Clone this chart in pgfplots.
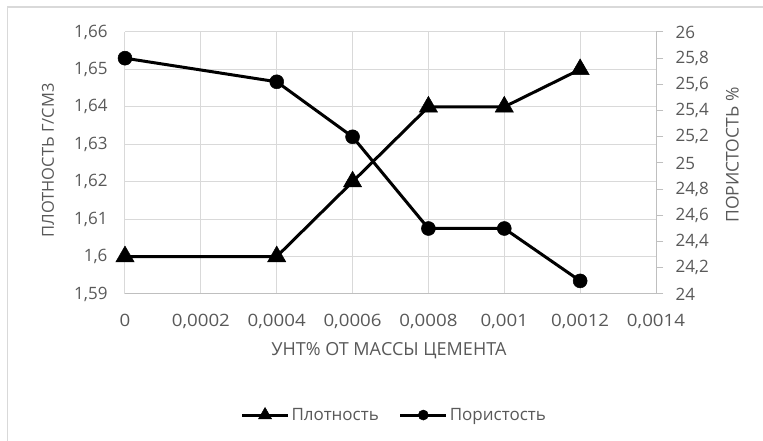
\documentclass[border=0pt]{standalone}
\usepackage{pgfplots}
\pgfplotsset{compat=1.18}
\usepackage{fontspec}
\setmainfont{Open Sans}
\definecolor{txt}{HTML}{595959}
\definecolor{grd}{HTML}{D9D9D9}
\definecolor{axl}{HTML}{BFBFBF}
\pgfplotstableread{
x y
0      1.60
0.0004 1.60
0.0006 1.62
0.0008 1.64
0.001  1.64
0.0012 1.65
}\dens
\pgfplotstableread{
x y
0      25.8
0.0004 25.62
0.0006 25.2
0.0008 24.5
0.001  24.5
0.0012 24.1
}\por
\pgfplotsset{
  densstyle/.style={black, line width=3pt, mark=triangle*, mark size=10.5pt, mark options={solid, line width=0.5pt}},
  porstyle/.style={black, line width=3pt, mark=*, mark size=7pt, mark options={solid, line width=0.5pt}},
}
\begin{document}
\begin{tikzpicture}[x=1pt,y=1pt]
\useasboundingbox (-125,-147) rectangle (638,294);
\fill[white] (-125,-147) rectangle (638,294);
\draw[grd, line width=1.5pt] (-117.5,-147) -- (-117.5,287) -- (638,287);
\begin{axis}[
  scale only axis, width=531pt, height=262pt,
  xmin=0, xmax=0.0014, ymin=1.59, ymax=1.66,
  scaled x ticks=false, scaled y ticks=false,
  axis x line*=bottom, axis y line*=left,
  x axis line style={draw=axl, line width=1pt, -},
  y axis line style={draw=grd, line width=1pt, -},
  xtick={0,0.0002,0.0004,0.0006,0.0008,0.001,0.0012,0.0014},
  xticklabels={0,{0,0002},{0,0004},{0,0006},{0,0008},{0,001},{0,0012},{0,0014}},
  ytick={1.59,1.6,1.61,1.62,1.63,1.64,1.65,1.66},
  yticklabels={{1,59},{1,6},{1,61},{1,62},{1,63},{1,64},{1,65},{1,66}},
  major tick length=0pt,
  xmajorgrids, ymajorgrids,
  grid style={draw=grd, line width=1pt},
  tick label style={font=\fontsize{17}{20}\selectfont, text=txt},
  xticklabel style={anchor=north, yshift=-17pt, xscale=1.1},
  yticklabel style={anchor=east, xshift=-14pt},
  ylabel={ПЛОТНОСТЬ Г/СМ3},
  ylabel style={at={(axis description cs:-0.145,0.51)}, anchor=center, rotate=0, font=\fontsize{16.5}{19}\selectfont, text=txt},
  xlabel={УНТ\% ОТ МАССЫ ЦЕМЕНТА},
  xlabel style={at={(axis description cs:0.497,-0.216)}, anchor=center, font=\fontsize{18}{21}\selectfont, text=txt},
  clip=false,
]
\addplot[densstyle] table[x=x,y=y] {\dens};
\end{axis}
\begin{axis}[
  scale only axis, width=531pt, height=262pt,
  xmin=0, xmax=0.0014, ymin=24, ymax=26,
  scaled x ticks=false, scaled y ticks=false,
  axis x line=none, axis y line*=right,
  y axis line style={draw=axl, line width=1pt, -},
  ytick={24,24.2,24.4,24.6,24.8,25,25.2,25.4,25.6,25.8,26},
  yticklabels={24,{24,2},{24,4},{24,6},{24,8},25,{25,2},{25,4},{25,6},{25,8},26},
  tick align=outside, major tick length=7pt,
  ytick style={draw=axl, line width=1pt},
  tick label style={font=\fontsize{17}{20}\selectfont, text=txt},
  yticklabel style={anchor=west, xshift=9pt},
  ylabel={ПОРИСТОСТЬ \%},
  ylabel style={at={(axis description cs:1.144,0.53)}, anchor=center, rotate=0, font=\fontsize{17.5}{20}\selectfont, text=txt},
  legend style={at={(axis description cs:0.507,-0.462)}, anchor=center, draw=none, fill=none,
    legend columns=2, font=\fontsize{17}{20}\selectfont, text=txt,
    /tikz/every even column/.append style={column sep=18pt}},
  legend image code/.code={
    \draw[#1, mark=none] (0pt,0pt) -- (46pt,0pt);
    \path[#1, /tikz/every mark/.append style={scale=0.72}] plot coordinates {(23pt,0pt)};
  },
  clip=false,
]
\addlegendimage{densstyle}
\addlegendentry{Плотность}
\addplot[porstyle] table[x=x,y=y] {\por};
\addlegendentry{Пористость}
\end{axis}
\end{tikzpicture}
\end{document}
